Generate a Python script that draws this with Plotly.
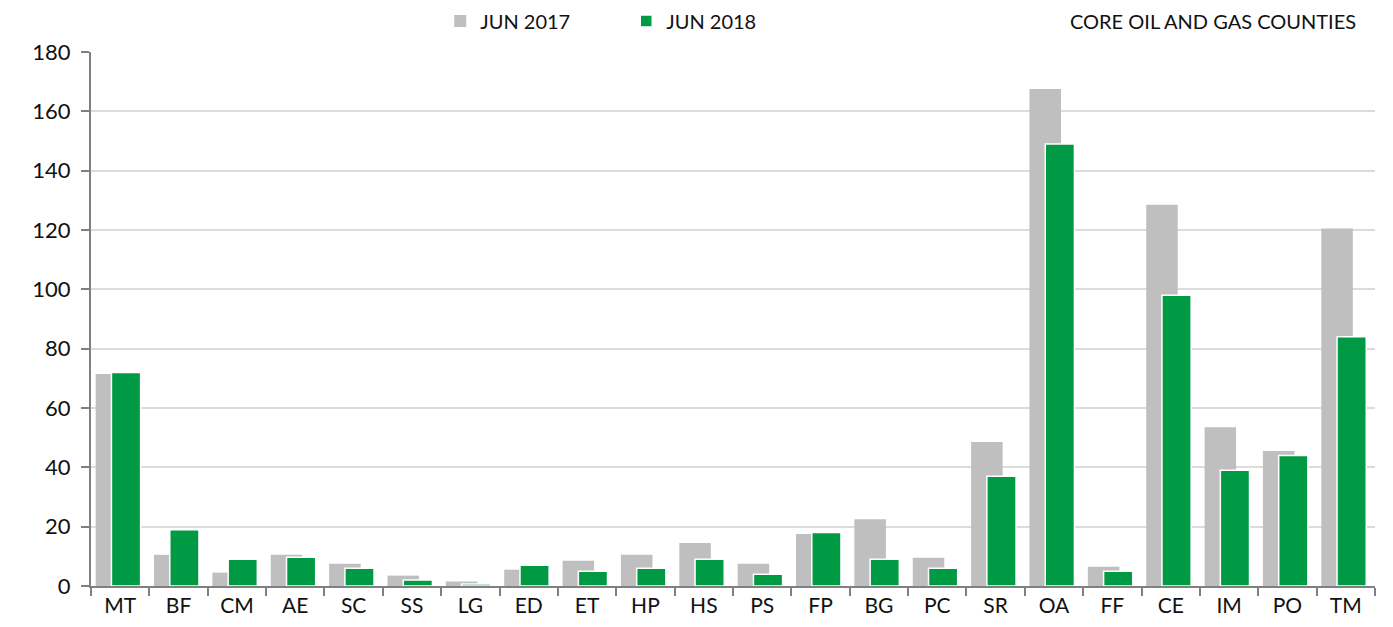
import plotly.graph_objects as go

categories = ["MT","BF","CM","AE","SC","SS","LG","ED","ET","HP","HS","PS","FP","BG","PC","SR","OA","FF","CE","IM","PO","TM"]
jun2017 = [71.5,10.5,4.5,10.5,7.5,3.5,1.5,5.5,8.5,10.5,14.5,7.5,17.5,22.5,9.5,48.5,167.5,6.5,128.5,53.5,45.5,120.5]
jun2018 = [72,19,9,9.7,6,2,0.7,7,5,6,9,4,18,9,6,37,149,5,98,39,44,84]
y_ticks = [0,20,40,60,80,100,120,140,160,180]

FONT = "Lato"
fig = go.Figure()
fig.add_trace(go.Bar(
    x=categories, y=jun2017, name="JUN 2017",
    marker=dict(color="#bfbfbf", line=dict(width=0)),
    offset=-0.42, width=0.54,
))
fig.add_trace(go.Bar(
    x=categories, y=jun2018, name="JUN 2018",
    marker=dict(color="#009a44", line=dict(color="white", width=1.5)),
    offset=-0.15, width=0.50,
))

fig.update_layout(
    barmode="overlay",
    width=1393, height=627,
    margin=dict(l=83, r=26, t=44, b=49, autoexpand=False),
    plot_bgcolor="white", paper_bgcolor="white",
    font=dict(family=FONT, size=21, color="#111111"),
    showlegend=True,
    legend=dict(orientation="h", x=0.272, xanchor="left",
                yref="container", y=1 - 13/627, yanchor="middle",
                font=dict(family=FONT, size=20, color="#111111"),
                itemwidth=30, entrywidth=141, entrywidthmode="pixels",
                traceorder="normal", bgcolor="rgba(0,0,0,0)"),
    xaxis=dict(
        type="category", tickson="boundaries", ticks="outside", ticklen=8,
        tickcolor="#808080", tickwidth=1.5,
        showline=True, linecolor="#808080", linewidth=2,
        showgrid=False, range=[-0.5, len(categories)-0.5],
        tickfont=dict(family=FONT, size=21, color="#111111"),
    ),
    yaxis=dict(
        range=[0, 180], tickvals=y_ticks, ticks="outside", ticklen=8,
        tickcolor="#808080", tickwidth=1.5,
        showline=True, linecolor="#808080", linewidth=2,
        showgrid=True, gridcolor="#dcdcdc", gridwidth=1.5,
        zeroline=False,
        tickfont=dict(family=FONT, size=22, color="#111111"),
        ticklabelstandoff=6,
    ),
    annotations=[dict(
        text="CORE OIL AND GAS COUNTIES", xref="paper", yref="paper",
        x=0.9868, y=1 + 31/534, xanchor="right", yanchor="middle",
        showarrow=False, font=dict(family=FONT, size=20, color="#111111"),
    )],
)

fig.write_html("out.html")
